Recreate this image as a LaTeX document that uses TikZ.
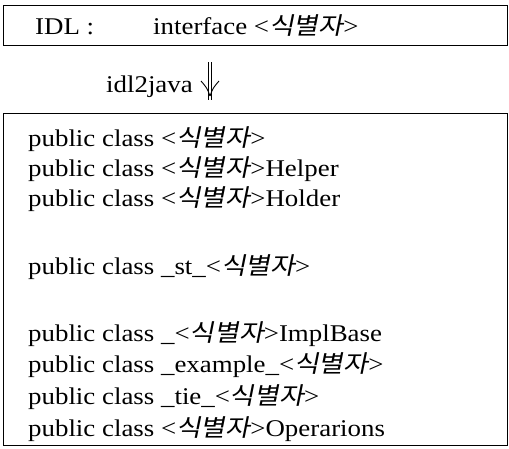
\documentclass[tikz,border=0pt]{standalone}
\usepackage{fontspec}
\setmainfont{Liberation Serif}[FakeStretch=1.12]
\newfontfamily\kr[FakeSlant=0.2, FakeStretch=1.12]{Noto Sans CJK KR}
\newcommand\ident{\textless{\kr 식별자}\textgreater}
\begin{document}
\begin{tikzpicture}[x=1pt,y=-1pt,
  txt/.style={anchor=base west, inner sep=0pt, font=\fontsize{24}{28}\selectfont},
  frame/.style={draw, line width=1.4pt, anchor=north west, inner sep=0pt}]
\useasboundingbox (0,0) rectangle (509,448);
\node[frame, minimum width=504pt, minimum height=40pt] (idlbox) at (3,5) {};
\node[frame, minimum width=504pt, minimum height=332pt] (javabox) at (3,113) {};
\node[txt] (idl) at (35,34) {IDL :};
\node[txt] (iface) at (153,34) {interface \ident};
\node[txt] (tool) at (106,92) {idl2java};
\coordinate (a1) at (210,62);
\coordinate (a2) at (210,96);
\draw[line width=0.7pt, double, double distance=2.6pt] (a1) -- ([yshift=-4pt]a2);
\draw[line width=0.9pt] (a2) .. controls (207,88) .. (201,81);
\draw[line width=0.9pt] (a2) .. controls (213,88) .. (219,81);
\node[txt] (l1) at (28,146) {public class \ident};
\node[txt] (l2) at (28,176) {public class \ident Helper};
\node[txt] (l3) at (28,206) {public class \ident Holder};
\node[txt] (l4) at (28,274) {public class \_st\_\ident};
\node[txt] (l5) at (28,341) {public class \_\ident ImplBase};
\node[txt] (l6) at (28,372) {public class \_example\_\ident};
\node[txt] (l7) at (28,404) {public class \_tie\_\ident};
\node[txt] (l8) at (28,436) {public class \ident Operarions};
\end{tikzpicture}
\end{document}
